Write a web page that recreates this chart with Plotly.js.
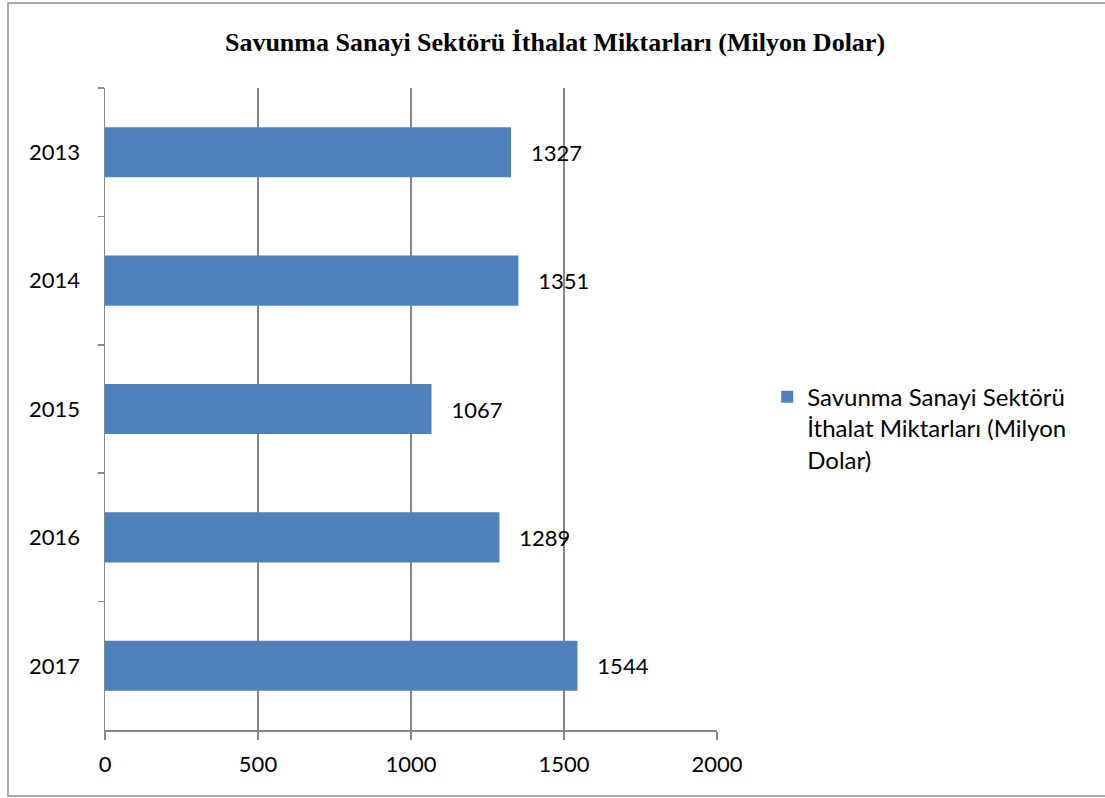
<!DOCTYPE html>
<html>
<head>
<meta charset="utf-8">
<script src="https://cdn.plot.ly/plotly-3.0.1.min.js"></script>
<style>body{margin:0;background:#fff;} #chart{width:1105px;height:798px;}</style>
</head>
<body>
<div id="chart"></div>
<script>
const years = ["2013", "2014", "2015", "2016", "2017"];
const values = [1327, 1351, 1067, 1289, 1544];
const seriesName = "Savunma Sanayi Sektörü İthalat Miktarları (Milyon Dolar)";
const legendLabel = "Savunma Sanayi Sektörü<br>İthalat Miktarları (Milyon<br>Dolar)";
const xTicks = [0, 500, 1000, 1500, 2000];

const font = "Lato, 'Open Sans', sans-serif";
const axisColor = "#868686";

const trace = {
  type: "bar",
  orientation: "h",
  y: years,
  x: values,
  name: legendLabel,
  marker: {color: "#4F81BD"},
  text: values.map(String),
  texttemplate: "\u00a0\u00a0\u00a0%{text}",
  textposition: "outside",
  cliponaxis: false,
  textfont: {family: font, size: 22, color: "#000"},
  hoverinfo: "x+y"
};

const layout = {
  width: 1105,
  height: 798,
  margin: {l: 105, r: 388, t: 88, b: 68},
  paper_bgcolor: "#fff",
  plot_bgcolor: "#fff",
  bargap: 0.61,
  title: {
    text: "<b>" + seriesName + "</b>",
    font: {family: "'Liberation Serif', 'Times New Roman', serif", size: 26, color: "#000"},
    x: 555/1105, xref: "container", xanchor: "center",
    y: 1 - 42/798, yref: "container", yanchor: "middle"
  },
  xaxis: {
    range: [0, 2000],
    tickvals: xTicks,
    ticktext: xTicks.map(String),
    showgrid: true,
    gridcolor: axisColor,
    gridwidth: 1.5,
    showline: true,
    linecolor: axisColor,
    linewidth: 1.5,
    ticks: "outside",
    ticklen: 8,
    tickcolor: axisColor,
    tickwidth: 1.5,
    zeroline: false,
    tickfont: {family: font, size: 22, color: "#000"},
    ticklabelstandoff: 6
  },
  yaxis: {
    type: "category",
    categoryorder: "array",
    categoryarray: years,
    range: [4.5, -0.5],
    showgrid: false,
    showline: true,
    linecolor: axisColor,
    linewidth: 1.5,
    ticks: "outside",
    tickson: "boundaries",
    ticklen: 6,
    tickcolor: axisColor,
    tickwidth: 1.5,
    zeroline: false,
    tickfont: {family: font, size: 22, color: "#000"},
    ticklabelstandoff: 19
  },
  showlegend: true,
  legend: {
    x: 1.082, xanchor: "left",
    y: 0.47, yanchor: "middle",
    valign: "top",
    font: {family: font, size: 24, color: "#000"},
    bgcolor: "rgba(0,0,0,0)",
    itemwidth: 30
  },
  shapes: [{
    type: "rect", xref: "paper", yref: "paper",
    x0: (8 - 105)/612, x1: (1110 - 105)/612,
    y0: (730 - 796)/642, y1: (730 - 3)/642,
    line: {color: "#8c8c8c", width: 1.5},
    fillcolor: "rgba(0,0,0,0)",
    layer: "below"
  }]
};

Plotly.newPlot("chart", [trace], layout, {displayModeBar: false, staticPlot: true});
</script>
</body>
</html>
